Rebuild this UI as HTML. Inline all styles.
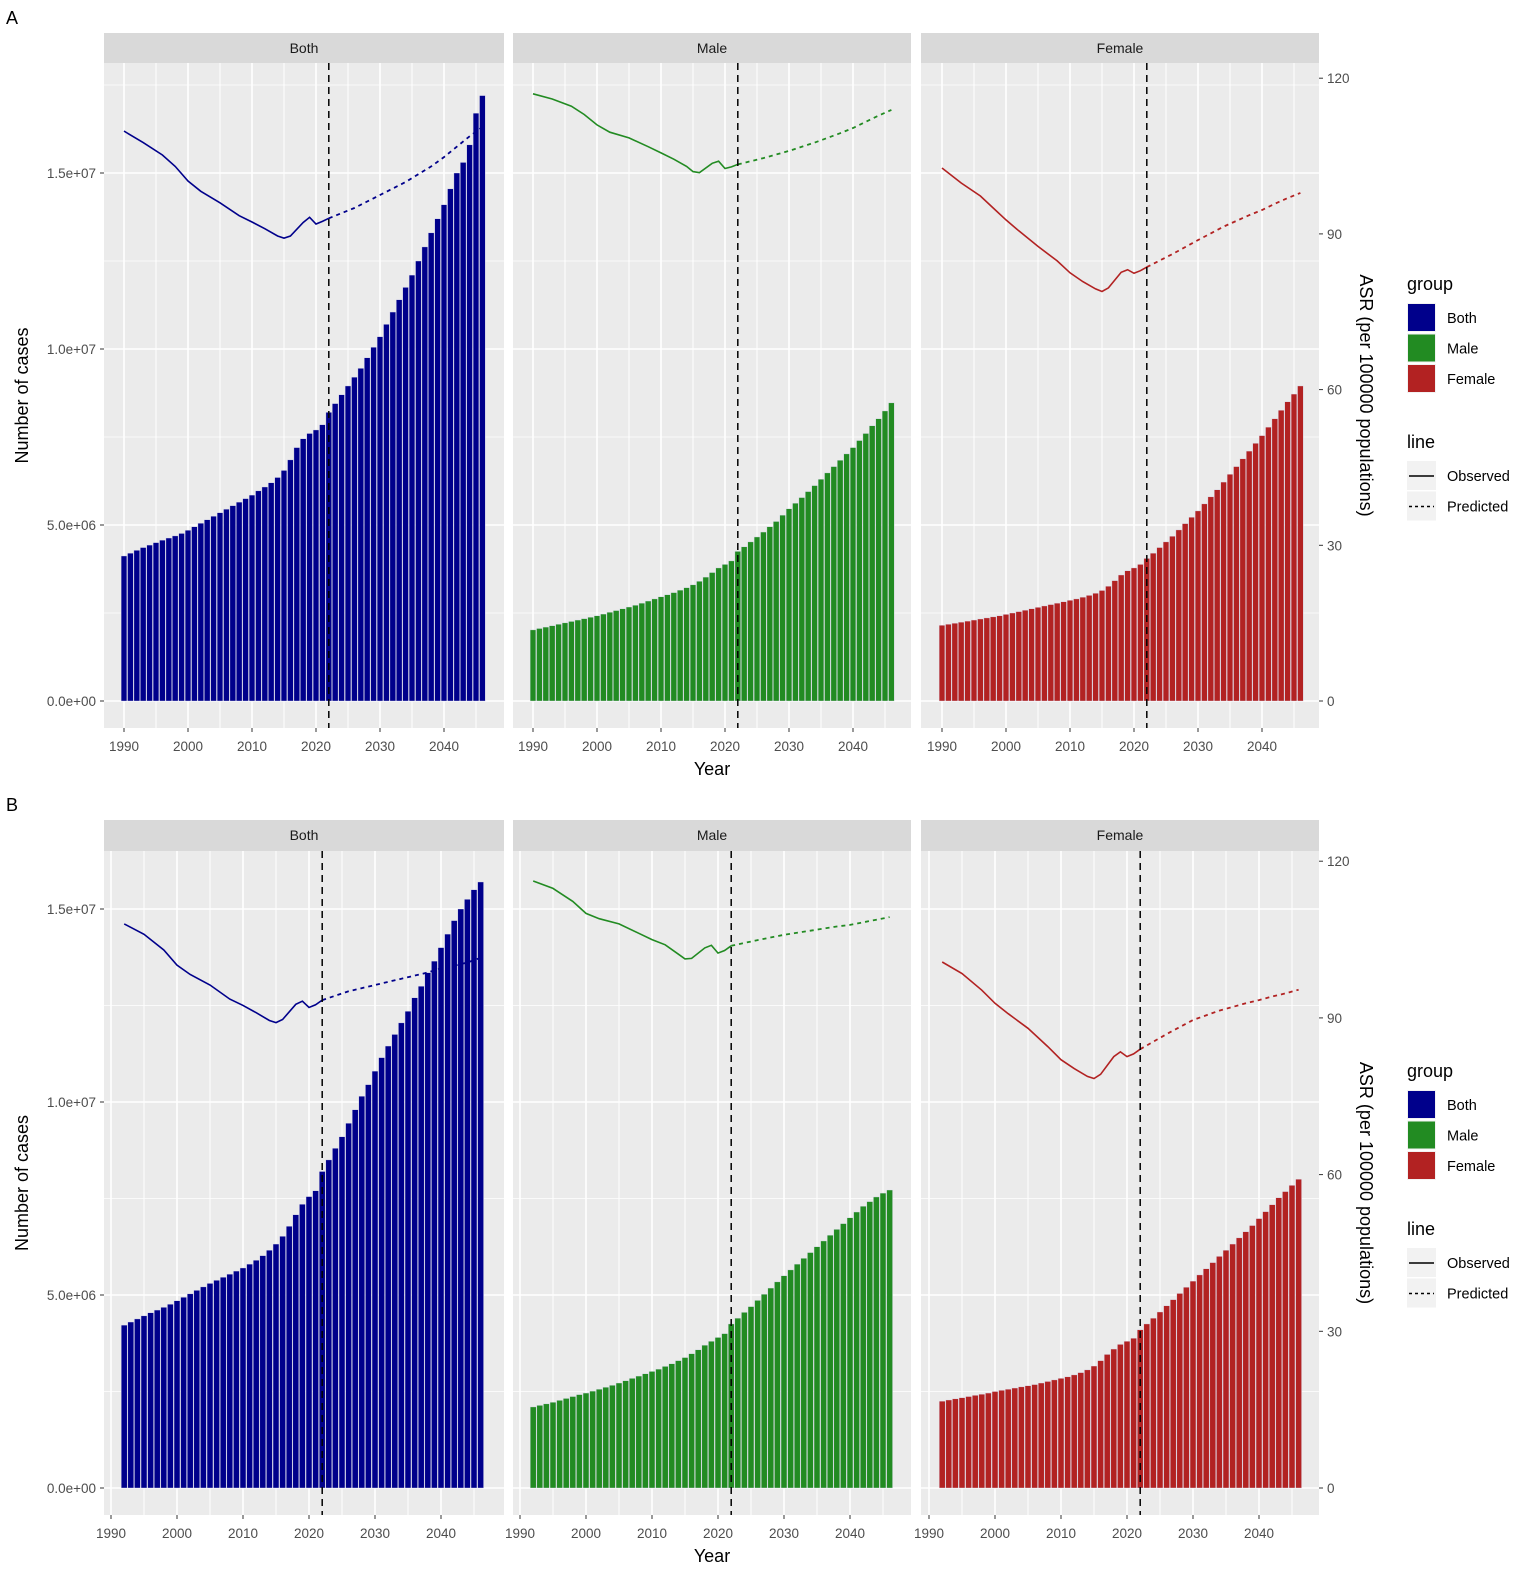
<!DOCTYPE html>
<html><head><meta charset="utf-8"><style>
body{margin:0;background:#fff;}
svg{display:block;font-family:"Liberation Sans",Arial,sans-serif;}
</style></head><body>
<svg id="chart" width="1535" height="1584" viewBox="0 0 1535 1584" xmlns="http://www.w3.org/2000/svg"></svg>
<script>
// ---------- data ----------
const groups = ["Both","Male","Female"];
const colors = ["#00008B","#228B22","#B22222"];
const barYearsA0 = 1990;
const barYearsB0 = 1992;
const cutYear = 2022;
const leftTicks = [0,5e6,1e7,1.5e7];
const leftTickLabels = ["0.0e+00","5.0e+06","1.0e+07","1.5e+07"];
const rightTicks = [0,30,60,90,120];
const xTicks = [1990,2000,2010,2020,2030,2040];

// Panel A bar values (millions), 1990..2046
const barsA_Both = [4.12,4.20,4.28,4.36,4.43,4.50,4.57,4.63,4.69,4.76,4.85,4.95,5.05,5.15,5.25,5.35,5.45,5.55,5.65,5.75,5.85,5.97,6.08,6.20,6.35,6.55,6.85,7.20,7.45,7.60,7.70,7.85,8.20,8.45,8.70,8.95,9.20,9.45,9.75,10.05,10.35,10.70,11.05,11.40,11.75,12.10,12.50,12.90,13.30,13.70,14.10,14.55,15.00,15.30,15.80,16.70,17.20];
const barsA_Male = [2.02,2.06,2.10,2.14,2.18,2.22,2.26,2.30,2.34,2.38,2.42,2.47,2.52,2.57,2.62,2.67,2.72,2.78,2.84,2.90,2.96,3.02,3.08,3.15,3.22,3.30,3.40,3.52,3.65,3.78,3.88,3.98,4.25,4.38,4.52,4.66,4.80,4.95,5.10,5.28,5.46,5.62,5.78,5.95,6.12,6.30,6.48,6.66,6.84,7.02,7.20,7.40,7.60,7.82,8.02,8.24,8.47];
const barsA_Female = [2.15,2.18,2.21,2.24,2.27,2.30,2.33,2.36,2.39,2.42,2.46,2.50,2.54,2.58,2.62,2.66,2.70,2.74,2.78,2.82,2.86,2.90,2.95,3.00,3.06,3.14,3.26,3.42,3.58,3.70,3.78,3.88,4.05,4.20,4.36,4.52,4.68,4.86,5.04,5.22,5.40,5.60,5.80,6.00,6.22,6.44,6.66,6.88,7.10,7.32,7.54,7.78,8.02,8.26,8.50,8.72,8.95];
// Panel B bar values (millions), 1992..2046
const barsB_Both = [4.22,4.30,4.38,4.46,4.54,4.61,4.68,4.76,4.85,4.94,5.03,5.12,5.21,5.30,5.38,5.46,5.54,5.62,5.70,5.80,5.90,6.02,6.16,6.32,6.52,6.78,7.08,7.35,7.55,7.70,8.20,8.50,8.80,9.10,9.45,9.80,10.15,10.45,10.80,11.15,11.45,11.75,12.05,12.35,12.70,13.00,13.35,13.65,14.00,14.35,14.70,15.00,15.25,15.50,15.70];
const barsB_Male = [2.10,2.14,2.18,2.22,2.27,2.32,2.37,2.42,2.46,2.51,2.56,2.61,2.66,2.72,2.78,2.84,2.90,2.96,3.02,3.08,3.15,3.22,3.30,3.38,3.48,3.58,3.70,3.80,3.90,4.00,4.25,4.40,4.55,4.70,4.86,5.02,5.18,5.34,5.50,5.65,5.80,5.95,6.10,6.25,6.40,6.55,6.70,6.85,7.00,7.15,7.30,7.42,7.54,7.64,7.72];
const barsB_Female = [2.25,2.28,2.31,2.34,2.37,2.40,2.43,2.46,2.50,2.53,2.56,2.59,2.62,2.65,2.68,2.72,2.76,2.80,2.84,2.88,2.93,2.99,3.06,3.16,3.30,3.46,3.60,3.72,3.80,3.88,4.10,4.25,4.40,4.56,4.72,4.88,5.04,5.20,5.36,5.52,5.68,5.84,6.00,6.16,6.32,6.48,6.64,6.80,6.98,7.16,7.34,7.52,7.68,7.84,8.00];

// ASR lines (observed to 2022, predicted after)
const lineYearsA = [1990,1993,1996,1998,2000,2002,2005,2008,2010,2012,2014,2015,2016,2018,2019,2020,2021,2022,2026,2030,2034,2038,2040,2042,2044,2046];
const asrA_Both = [109.8,107.6,105.2,103.0,100.2,98.2,96.0,93.5,92.3,91.0,89.6,89.2,89.6,92.2,93.2,91.9,92.4,93.0,95.0,97.5,100.0,103.0,104.8,106.8,108.8,110.6];
const asrA_Male = [117.0,116.0,114.6,113.0,111.0,109.6,108.5,106.8,105.6,104.4,103.0,102.0,101.8,103.6,104.0,102.6,102.9,103.4,104.6,106.0,107.6,109.4,110.4,111.6,112.8,113.9];
const asrA_Female = [102.7,99.8,97.3,95.0,92.7,90.6,87.6,84.8,82.5,80.8,79.4,78.9,79.6,82.6,83.1,82.4,82.9,83.6,86.1,88.8,91.4,93.6,94.6,95.8,96.9,97.9];
const lineYearsB = [1992,1995,1998,2000,2002,2005,2008,2010,2012,2014,2015,2016,2018,2019,2020,2021,2022,2026,2030,2034,2038,2040,2042,2044,2046];
const asrB_Both = [108.0,106.0,103.0,100.1,98.3,96.3,93.6,92.4,91.0,89.5,89.1,89.7,92.6,93.2,92.0,92.5,93.4,95.1,96.3,97.5,98.7,99.5,100.0,100.6,101.5];
const asrB_Male = [116.2,114.8,112.3,110.0,109.0,108.0,106.2,105.0,104.0,102.2,101.3,101.4,103.4,103.9,102.4,102.9,103.8,104.9,105.9,106.7,107.5,107.8,108.3,108.8,109.3];
const asrB_Female = [100.7,98.5,95.3,92.8,90.8,88.0,84.5,82.0,80.3,78.8,78.4,79.2,82.6,83.5,82.6,83.1,84.0,86.9,89.6,91.4,92.8,93.4,94.1,94.7,95.4];

// ---------- layout ----------
const NS="http://www.w3.org/2000/svg";
const svg=document.getElementById('chart');
function mk(tag,attrs,parent,text){const e=document.createElementNS(NS,tag);for(const k in attrs)e.setAttribute(k,attrs[k]);if(text!==undefined)e.textContent=text;(parent||svg).appendChild(e);return e;}

const panelX=[[104,504],[513,911],[921,1319]];
const figs=[
 {label:"A",ly:18,stripTop:33,top:63,bottom:728,y0:701,leftPer5e6:176,rightPer30:155.7,x1990:[124,533,942],xs:6.4,
  bars:[barsA_Both,barsA_Male,barsA_Female],barStart:barYearsA0,lineYears:lineYearsA,asr:[asrA_Both,asrA_Male,asrA_Female]},
 {label:"B",ly:805,stripTop:820,top:851,bottom:1515,y0:1488,leftPer5e6:193,rightPer30:156.7,x1990:[111,520,929],xs:6.6,
  bars:[barsB_Both,barsB_Male,barsB_Female],barStart:barYearsB0,lineYears:lineYearsB,asr:[asrB_Both,asrB_Male,asrB_Female]}
];

figs.forEach((f,fi)=>{
  const g=mk('g',{});
  
  
  const pl=mk('text',{x:6,y:f.ly+6,'font-size':18,fill:'#000'},g,f.label);
  
  
  const yL=v=>f.y0-v/5e6*f.leftPer5e6;
  const yR=v=>f.y0-v/30*f.rightPer30;
  groups.forEach((grp,p)=>{
    const [px0,px1]=panelX[p];
    const xS=yr=>f.x1990[p]+(yr-1990)*f.xs;
    const pg=mk('g',{},g);
    
    
    const st=mk('rect',{x:px0,y:f.stripTop,width:px1-px0,height:f.top-f.stripTop,fill:'#D9D9D9'},pg);
    
    
    const stt=mk('text',{x:(px0+px1)/2,y:f.stripTop+20,'font-size':14,fill:'#1A1A1A','text-anchor':'middle'},pg,grp);
    
    
    const bg=mk('rect',{x:px0,y:f.top,width:px1-px0,height:f.bottom-f.top,fill:'#EBEBEB'},pg);
    
    
    for(let v=0;v<=1.75e7;v+=2.5e6){const y=yL(v);if(y<f.top)continue;
      const l=mk('line',{x1:px0,x2:px1,y1:y,y2:y,stroke:'#fff','stroke-width':(v%5e6===0)?1.6:0.8},pg);
      }
    for(let yr=1990;yr<=2045;yr+=5){const x=xS(yr);
      const l=mk('line',{x1:x,x2:x,y1:f.top,y2:f.bottom,stroke:'#fff','stroke-width':(yr%10===0)?1.6:1.0},pg);
      }
    const bw=0.9*f.xs;
    f.bars[p].forEach((v,i)=>{const yr=f.barStart+i;const y=yL(v*1e6);
      const r=mk('rect',{x:xS(yr)-bw/2,y:y,width:bw,height:f.y0-y,fill:colors[p],stroke:'#DDDDEE','stroke-width':0.4},pg);
      
      });
    const yrs=f.lineYears, vals=f.asr[p];
    let obs=[],pred=[];
    yrs.forEach((yr,i)=>{const pt=xS(yr).toFixed(1)+','+yR(vals[i]).toFixed(1);if(yr<=cutYear)obs.push(pt);if(yr>=cutYear)pred.push(pt);});
    const lo=mk('polyline',{points:obs.join(' '),fill:'none',stroke:colors[p],'stroke-width':1.6},pg);
    
    
    const lp=mk('polyline',{points:pred.join(' '),fill:'none',stroke:colors[p],'stroke-width':1.8,'stroke-dasharray':'4,4'},pg);
    
    
    const vl=mk('line',{x1:xS(cutYear),x2:xS(cutYear),y1:f.top,y2:f.bottom,stroke:'#000','stroke-width':1.5,'stroke-dasharray':'7,5'},pg);
    
    
    xTicks.forEach(t=>{const x=xS(t);
      mk('line',{x1:x,x2:x,y1:f.bottom,y2:f.bottom+4,stroke:'#333','stroke-width':1},pg);
      const tl=mk('text',{x:x,y:f.bottom+23,'font-size':13.5,fill:'#4D4D4D','text-anchor':'middle'},pg,t);
      
      });
  });
  leftTicks.forEach((v,i)=>{const y=yL(v);
    mk('line',{x1:100,x2:104,y1:y,y2:y,stroke:'#333'},g);
    const t=mk('text',{x:96,y:y+5,'font-size':13.5,fill:'#4D4D4D','text-anchor':'end'},g,leftTickLabels[i]);
    });
  rightTicks.forEach(v=>{const y=yR(v);
    mk('line',{x1:1319,x2:1323,y1:y,y2:y,stroke:'#333'},g);
    const t=mk('text',{x:1327,y:y+5,'font-size':13.5,fill:'#4D4D4D'},g,v);
    });
  const mid=(f.top+f.bottom)/2;
  const yt=mk('text',{x:0,y:0,'font-size':18,fill:'#000','text-anchor':'middle',transform:`translate(28,${mid}) rotate(-90)`},g,'Number of cases');
  
  const yt2=mk('text',{x:0,y:0,'font-size':18,fill:'#000','text-anchor':'middle',transform:`translate(1360,${mid}) rotate(90)`},g,'ASR (per 100000 populations)');
  
  const xt=mk('text',{x:712,y:f.bottom+47,'font-size':18,fill:'#000','text-anchor':'middle'},g,'Year');
  
  const off=fi===0?0:787;
  const lg=mk('g',{},g);
  
  mk('text',{x:1407,y:290+off,'font-size':18,fill:'#000'},lg,'group');
  groups.forEach((grp,i)=>{const y=303+off+i*30.5;
    mk('rect',{x:1407,y:y,width:29,height:29,fill:'#F2F2F2'},lg);
    const k=mk('rect',{x:1408,y:y+1,width:27,height:27,fill:colors[i]},lg);
    
    mk('text',{x:1447,y:y+20,'font-size':14.5,fill:'#000'},lg,grp);});
  mk('text',{x:1407,y:448+off,'font-size':18,fill:'#000'},lg,'line');
  ['Observed','Predicted'].forEach((nm,i)=>{const y=461+off+i*30.5;
    mk('rect',{x:1407,y:y,width:29,height:29,fill:'#F2F2F2'},lg);
    const k=mk('line',{x1:1409,x2:1434,y1:y+15,y2:y+15,stroke:'#000','stroke-width':1.6,'stroke-dasharray':i?'3,3':'none'},lg);
    
    mk('text',{x:1447,y:y+20,'font-size':14.5,fill:'#000'},lg,nm);});
});
</script>
</body></html>
